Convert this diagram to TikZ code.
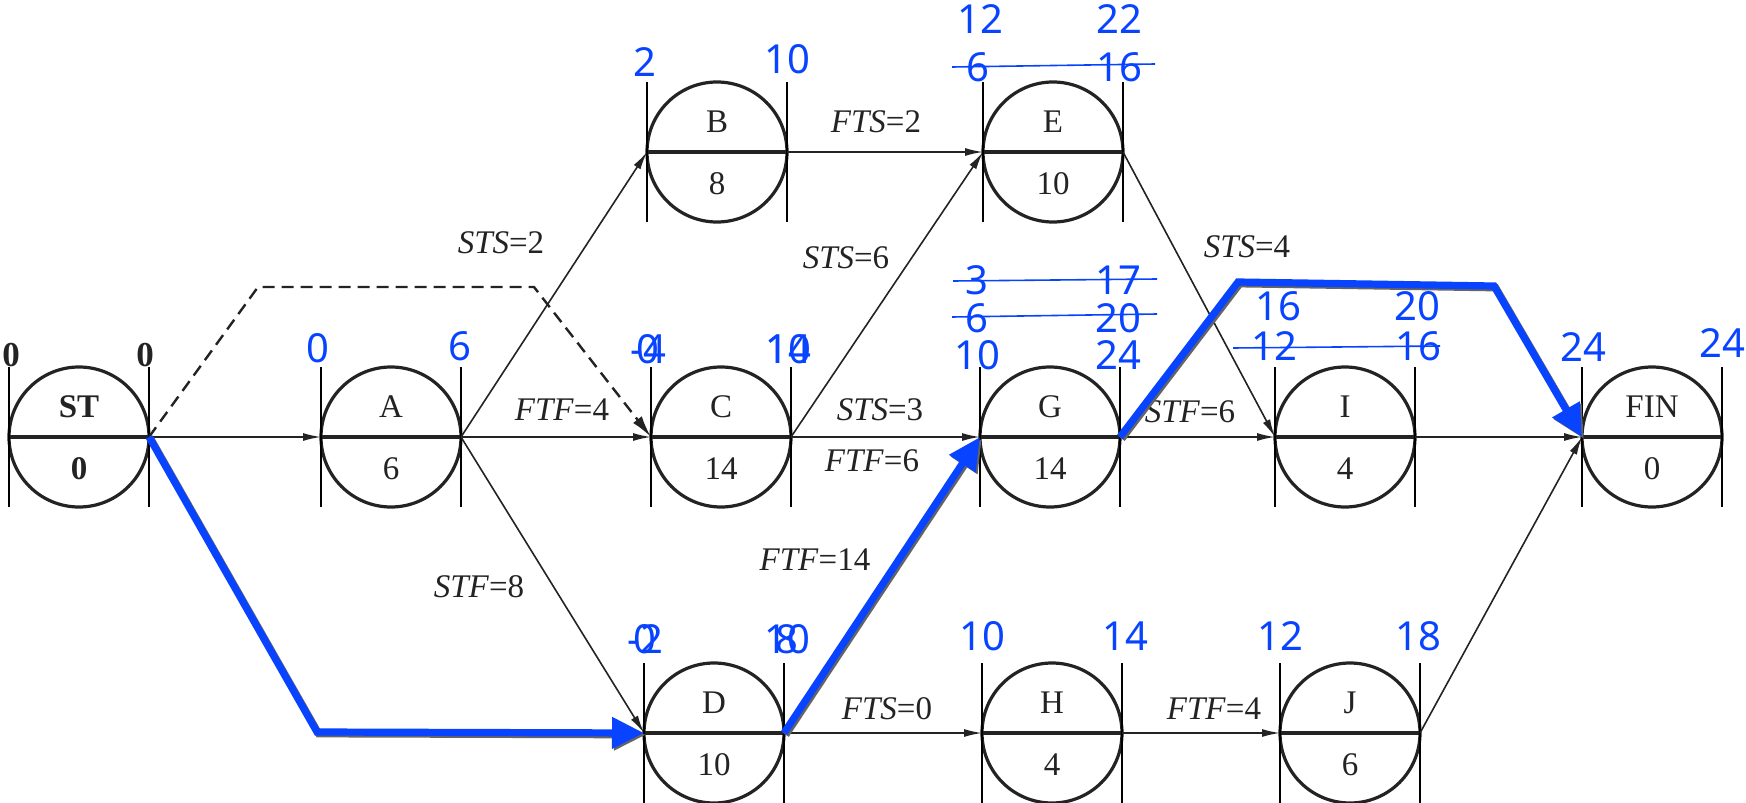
\documentclass[tikz,border=0pt]{standalone}
\usepackage{fontspec}
\setmainfont{Liberation Serif}
\newfontfamily\numfont{Noto Sans}
\usetikzlibrary{arrows.meta}
\definecolor{myblue}{RGB}{8,68,255}
\definecolor{ink}{RGB}{35,35,35}
\definecolor{shade}{RGB}{100,100,100}
\tikzset{
 actc/.style={circle, draw=ink, line width=1.6pt, minimum size=70pt, inner sep=0pt, outer sep=0pt},
 midl/.style={draw=ink, line width=1.7pt},
 barl/.style={draw=black, line width=1.2pt},
 nlab/.style={font=\fontsize{16.5}{18}\selectfont, text=ink, inner sep=0pt},
 elab/.style={font=\fontsize{16.5}{18}\selectfont, text=ink, inner sep=0pt},
 stlab/.style={font=\fontsize{17.5}{19}\selectfont\bfseries, text=ink, inner sep=0pt, anchor=base},
 edge/.style={draw=ink, line width=0.8pt, -{Latex[length=9pt,width=4pt]}},
 dashedge/.style={draw=ink, line width=1.2pt, dash pattern=on 6pt off 3.5pt, -{Latex[length=11pt,width=5.5pt]}},
 crit/.style={draw=myblue, line width=3.6pt, -{Triangle[length=16pt,width=15pt]}},
 critshadow/.style={draw=shade, line width=3.6pt, -{Triangle[length=16pt,width=15pt]}},
 bnum/.style={font=\numfont\fontsize{20}{22}\selectfont, text=myblue, anchor=base, inner sep=0pt},
 strike/.style={draw=myblue, line width=0.8pt},
}
\newcommand\actv[5]{%
 \node[actc] (#1) at (#2,#3) {};
 \draw[midl] (#1.west) -- (#1.east);
 \draw[barl] ([yshift=35pt]#1.west) -- ([yshift=-35pt]#1.west);
 \draw[barl] ([yshift=35pt]#1.east) -- ([yshift=-35pt]#1.east);
 \node[nlab] (#1-n) at ([yshift=15pt]#1.center) {#4};
 \node[nlab] (#1-d) at ([yshift=-16pt]#1.center) {#5};
}
\begin{document}
\begin{tikzpicture}[x=0.5pt,y=-0.5pt]
\useasboundingbox (0,0) rectangle (1746,803);
% activities
\actv{ST}{79}{437}{\textbf{ST}}{\textbf{0}}
\actv{A}{391}{437}{A}{6}
\actv{B}{717}{152}{B}{8}
\actv{C}{721}{437}{C}{14}
\actv{D}{714}{733}{D}{10}
\actv{E}{1053}{152}{E}{10}
\actv{G}{1050}{437}{G}{14}
\actv{H}{1052}{733}{H}{4}
\actv{I}{1345}{437}{I}{4}
\actv{J}{1350}{733}{J}{6}
\actv{FIN}{1652}{437}{FIN}{0}
% ST times
\node[stlab] (st0a) at (11,366) {0};
\node[stlab] (st0b) at (145,366) {0};
% black connectors
\draw[edge] (ST.east) -- (A.west);
\coordinate (d1) at (258,287);
\coordinate (d2) at (534,287);
\draw[dashedge] (ST.east) -- (d1) -- (d2) -- (C.west);
\draw[edge] (A.east) -- (B.west);
\draw[edge] (A.east) -- (C.west);
\draw[edge] (A.east) -- (D.west);
\draw[edge] (B.east) -- (E.west);
\draw[edge] (C.east) -- (E.west);
\draw[edge] (C.east) -- (G.west);
\draw[edge] (D.east) -- (G.west);
\draw[edge] (D.east) -- (H.west);
\draw[edge] (E.east) -- (I.west);
\draw[edge] (G.east) -- (I.west);
\draw[edge] (I.east) -- (FIN.west);
\draw[edge] (H.east) -- (J.west);
\draw[edge] (J.east) -- (FIN.west);
% connector labels
\node[elab] (l1) at (501,243) {\textit{STS}=2};
\node[elab] (l2) at (562,410) {\textit{FTF}=4};
\node[elab] (l3) at (479,587) {\textit{STF}=8};
\node[elab] (l4) at (876,122) {\textit{FTS}=2};
\node[elab] (l5) at (846,258) {\textit{STS}=6};
\node[elab] (l6) at (880,410) {\textit{STS}=3};
\node[elab] (l7) at (872,461) {\textit{FTF}=6};
\node[elab] (l8) at (815,560) {\textit{FTF}=14};
\node[elab] (l9) at (887,709) {\textit{FTS}=0};
\node[elab] (l10) at (1247,247) {\textit{STS}=4};
\node[elab] (l11) at (1190,412) {\textit{STF}=6};
\node[elab] (l12) at (1214,709) {\textit{FTF}=4};
% critical path (blue) with shadow
\coordinate (c1) at (317,732);
\coordinate (c2) at (1238,282);
\coordinate (c3) at (1494,286);
\begin{scope}[transform canvas={shift={(0.9pt,-0.9pt)}}]
\draw[critshadow] (ST.east) -- (c1) -- (D.west);
\draw[critshadow] (D.east) -- (G.west);
\draw[critshadow] (G.east) -- (c2) -- (c3) -- (FIN.west);
\end{scope}
\draw[crit] (ST.east) -- (c1) -- (D.west);
\draw[crit] (D.east) -- (G.west);
\draw[crit] (G.east) -- (c2) -- (c3) -- (FIN.west);
% blue times
\node[bnum] (tA1) at (318,362) {0};
\node[bnum] (tA2) at (460,360) {6};
\node[bnum] (tB1) at (645,76) {2};
\node[bnum] (tB2) at (787,73) {10};
\node[bnum] (tC1) at (648,363) {-4};
\node[bnum] (tC1b) at (648,363) {0};
\node[bnum] (tC2) at (788,363) {10};
\node[bnum] (tC2b) at (788,363) {14};
\node[bnum] (tD1) at (645,653) {-2};
\node[bnum] (tD1b) at (645,653) {0};
\node[bnum] (tD2) at (787,653) {8};
\node[bnum] (tD2b) at (787,653) {10};
\node[bnum] (tE1) at (980,33) {12};
\node[bnum] (tE2) at (1119,33) {22};
\node[bnum] (tE3) at (978,81) {6};
\node[bnum] (tE4) at (1119,81) {16};
\draw[strike] (952,67) -- (1155,64);
\node[bnum] (tG1) at (977,294) {3};
\node[bnum] (tG2) at (1118,294) {17};
\node[bnum] (tG3) at (977,332) {6};
\node[bnum] (tG4) at (1118,332) {20};
\node[bnum] (tG5) at (977,369) {10};
\node[bnum] (tG6) at (1118,369) {24};
\draw[strike] (953,281) -- (1157,279);
\draw[strike] (952,317) -- (1157,314);
\node[bnum] (tI1) at (1278,320) {16};
\node[bnum] (tI2) at (1417,320) {20};
\node[bnum] (tI3) at (1274,360) {12};
\node[bnum] (tI4) at (1418,360) {16};
\draw[strike] (1233,348) -- (1440,346);
\node[bnum] (tF1) at (1583,361) {24};
\node[bnum] (tF2) at (1722,357) {24};
\node[bnum] (tH1) at (982,650) {10};
\node[bnum] (tH2) at (1125,650) {14};
\node[bnum] (tJ1) at (1280,650) {12};
\node[bnum] (tJ2) at (1418,650) {18};
\end{tikzpicture}
\end{document}
